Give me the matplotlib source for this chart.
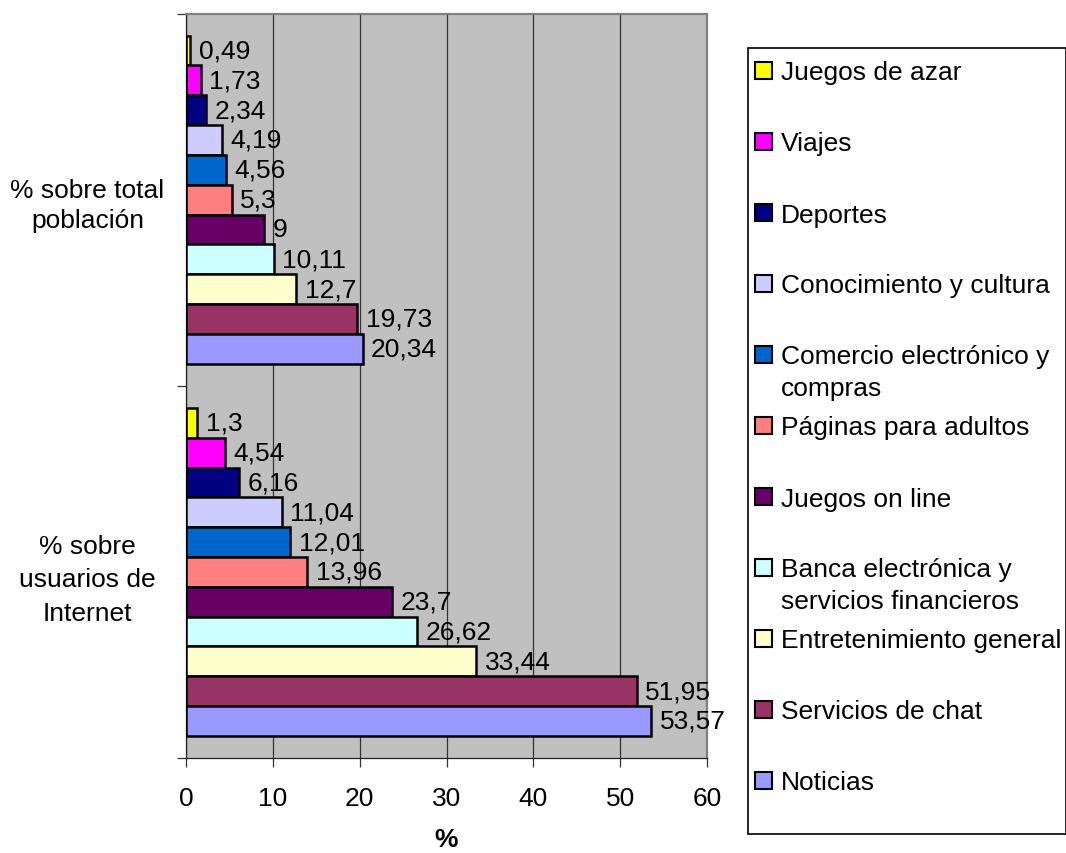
import matplotlib
matplotlib.use("Agg")
import matplotlib.pyplot as plt
from matplotlib.patches import Rectangle
from matplotlib.ticker import FixedLocator

plt.rcParams['font.family'] = ['Liberation Sans', 'DejaVu Sans']

# Categories (bottom to top on the y axis)
categories = ["% sobre\nusuarios de\nInternet", "% sobre total\npoblación"]

# Series, listed in legend order (drawn top to bottom inside each group)
series = [
    "Juegos de azar",
    "Viajes",
    "Deportes",
    "Conocimiento y cultura",
    "Comercio electrónico y\ncompras",
    "Páginas para adultos",
    "Juegos on line",
    "Banca electrónica y\nservicios financieros",
    "Entretenimiento general",
    "Servicios de chat",
    "Noticias",
]
colors = [
    "#FFFF00", "#FF00FF", "#000080", "#CCCCFF", "#0066CC", "#FF8080",
    "#660066", "#CCFFFF", "#FFFFCC", "#993366", "#9999FF",
]

usuarios_internet = [1.3, 4.54, 6.16, 11.04, 12.01, 13.96, 23.7, 26.62, 33.44, 51.95, 53.57]
total_poblacion = [0.49, 1.73, 2.34, 4.19, 4.56, 5.3, 9, 10.11, 12.7, 19.73, 20.34]
values = [usuarios_internet, total_poblacion]

x_ticks = [0, 10, 20, 30, 40, 50, 60]

W, H = 1066, 854
fig = plt.figure(figsize=(W / 100, H / 100), dpi=100)
ax = fig.add_axes([186 / W, 1 - 759 / H, (707 - 186) / W, (759 - 14.5) / H])
ax.set_facecolor("#C0C0C0")

FS = 19
n = len(series)
bar_h = 0.0801

for ci, cat_vals in enumerate(values):
    for si in range(n):
        y = ci + (n // 2 - si) * bar_h
        v = cat_vals[si]
        ax.barh(y, v, height=bar_h, color=colors[si], edgecolor="black",
                linewidth=1.8, zorder=3)
        label = f"{v:g}".replace(".", ",")
        ax.annotate(label, xy=(v, y), xytext=(6, 0), textcoords="offset points",
                    va="center", ha="left", fontsize=FS, zorder=4)

ax.set_xlim(0, 60)
ax.set_ylim(-0.5, len(categories) - 0.5)

# vertical gridlines
ax.set_xticks(x_ticks)
ax.set_xticklabels([str(t) for t in x_ticks], fontsize=FS)
ax.xaxis.grid(True, color="#333333", linewidth=0.9, zorder=1)
ax.set_axisbelow(True)
ax.tick_params(axis="x", direction="out", length=6.5, width=0.9,
               color="#333333", pad=14)

# category labels centred beside the axis, boundary ticks between groups
ax.set_yticks(range(len(categories)))
ax.set_yticklabels(categories, fontsize=FS, ha="center", multialignment="center")
for lbl, ls in zip(ax.get_yticklabels(), (1.5, 1.3)):
    lbl.set_linespacing(ls)
ax.tick_params(axis="y", which="major", length=0, pad=71)
ax.yaxis.set_minor_locator(FixedLocator([-0.5, 0.5, 1.5]))
ax.tick_params(axis="y", which="minor", direction="out", length=6.5,
               width=0.9, color="#333333")

ax.set_xlabel("%", fontsize=FS, fontweight="bold", labelpad=12)

for side in ("left", "bottom"):
    ax.spines[side].set_color("#222222")
    ax.spines[side].set_linewidth(0.9)
for side in ("top", "right"):
    ax.spines[side].set_color("#808080")
    ax.spines[side].set_linewidth(1.6)

# legend box with one entry per series
lx0, ly0, lx1, ly1 = 748, 49, 1066, 835
fig.patches.append(Rectangle((lx0 / W, 1 - ly1 / H), (lx1 - lx0) / W, (ly1 - ly0) / H,
                             transform=fig.transFigure, facecolor="white",
                             edgecolor="black", linewidth=1.2, zorder=0))
first_y = 71
step = 71
line_step = 31.7
sq = 17
for si in range(n):
    cy = first_y + step * si
    fig.patches.append(Rectangle((755 / W, 1 - (cy + sq / 2) / H), sq / W, sq / H,
                                 transform=fig.transFigure, facecolor=colors[si],
                                 edgecolor="black", linewidth=1.5, zorder=2))
    for li, line in enumerate(series[si].split("\n")):
        fig.text(781 / W, 1 - (cy + 9.5 + li * line_step) / H, line, fontsize=FS,
                 va="baseline", ha="left")

fig.savefig("out.png", dpi=100)
